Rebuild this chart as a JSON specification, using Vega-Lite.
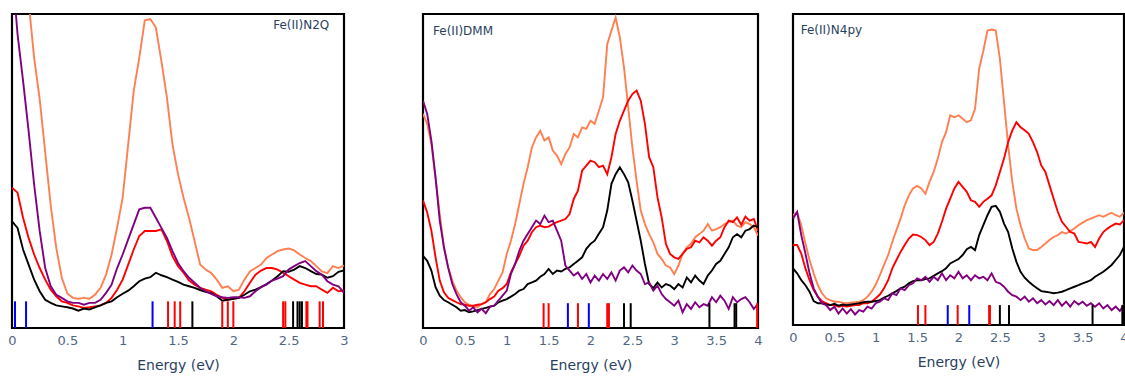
{
  "$schema": "https://vega.github.io/schema/vega-lite/v6.json",
  "background": "white",
  "padding": {"left": 6, "top": 12, "right": 0, "bottom": 2},
  "config": {
    "font": "DejaVu Sans",
    "view": {"stroke": "black", "strokeWidth": 2.2},
    "axis": {
      "grid": false,
      "ticks": false,
      "tickSize": 0,
      "domain": false,
      "labelFlush": false,
      "format": "~g",
      "labelFont": "DejaVu Sans",
      "labelFontSize": 13,
      "labelColor": "#506784",
      "labelPadding": 6,
      "titleFont": "DejaVu Sans",
      "titleFontSize": 14,
      "titleFontWeight": "normal",
      "titleColor": "#2a3f5f",
      "titlePadding": 11
    }
  },
  "datasets": {
    "n2q": [
      {"e":0,"o":160,"r":44.7,"k":34,"p":115},
      {"e":0.05,"o":150,"r":43.1,"k":31.9,"p":93.6},
      {"e":0.1,"o":130,"r":35.1,"k":25,"p":78.7},
      {"e":0.15,"o":104,"r":28.7,"k":20.2,"p":62.8},
      {"e":0.2,"o":86,"r":23.4,"k":15.4,"p":45.7},
      {"e":0.25,"o":73,"r":19.1,"k":11.7,"p":30.9},
      {"e":0.3,"o":56,"r":15.4,"k":9,"p":19.1},
      {"e":0.35,"o":39,"r":12.2,"k":8,"p":13.3},
      {"e":0.4,"o":25.5,"r":10.1,"k":7.2,"p":10.6},
      {"e":0.45,"o":16,"r":8.5,"k":6.9,"p":9.6},
      {"e":0.5,"o":11,"r":8,"k":6.6,"p":8.5},
      {"e":0.55,"o":9.6,"r":7.2,"k":6.2,"p":8},
      {"e":0.6,"o":9.3,"r":6.9,"k":5.5,"p":8},
      {"e":0.65,"o":9.6,"r":6.4,"k":6.2,"p":7.4},
      {"e":0.7,"o":9.3,"r":6.6,"k":5.9,"p":8},
      {"e":0.75,"o":10.6,"r":6.9,"k":6.6,"p":8},
      {"e":0.8,"o":12.8,"r":7.2,"k":7.2,"p":9},
      {"e":0.85,"o":17,"r":8,"k":8,"p":11.2},
      {"e":0.9,"o":23.4,"r":9.6,"k":8.5,"p":13.8},
      {"e":0.95,"o":32,"r":12.2,"k":9.8,"p":19.1},
      {"e":1.0,"o":41.5,"r":15.4,"k":10.9,"p":23.4},
      {"e":1.05,"o":58.5,"r":20.2,"k":11.9,"p":28.2},
      {"e":1.1,"o":75.5,"r":25,"k":13.3,"p":33},
      {"e":1.15,"o":86,"r":29.3,"k":14.9,"p":37.8},
      {"e":1.2,"o":98,"r":30.9,"k":15.7,"p":38.3},
      {"e":1.25,"o":98.4,"r":30.9,"k":16.2,"p":38.3},
      {"e":1.3,"o":95.7,"r":30.9,"k":17.6,"p":35.1},
      {"e":1.35,"o":85,"r":31.4,"k":16.8,"p":31.9},
      {"e":1.4,"o":73.4,"r":27.7,"k":16.2,"p":28.7},
      {"e":1.45,"o":58.5,"r":22.9,"k":15.4,"p":24.5},
      {"e":1.5,"o":49,"r":19.7,"k":14.7,"p":20.7},
      {"e":1.55,"o":41.5,"r":17.6,"k":13.8,"p":18.1},
      {"e":1.6,"o":35,"r":15.1,"k":13.3,"p":16},
      {"e":1.65,"o":27.7,"r":13.8,"k":12.8,"p":14.4},
      {"e":1.7,"o":20.2,"r":12.8,"k":12.1,"p":12.8},
      {"e":1.75,"o":18.6,"r":12.2,"k":11.5,"p":11.7},
      {"e":1.8,"o":17.5,"r":11.7,"k":11.1,"p":10.9},
      {"e":1.85,"o":15.4,"r":10.6,"k":10.1,"p":10.1},
      {"e":1.9,"o":12.8,"r":9.6,"k":8.7,"p":9.8},
      {"e":1.95,"o":13.3,"r":9,"k":9,"p":9.6},
      {"e":2.0,"o":11.7,"r":9.3,"k":9.3,"p":9.8},
      {"e":2.05,"o":12.2,"r":9.6,"k":9.6,"p":9.8},
      {"e":2.1,"o":15.4,"r":11.7,"k":10.6,"p":9.6},
      {"e":2.15,"o":18,"r":14.4,"k":11.7,"p":10.1},
      {"e":2.2,"o":19.1,"r":17,"k":12.2,"p":11.7},
      {"e":2.25,"o":20.2,"r":18.3,"k":13,"p":13},
      {"e":2.3,"o":22.3,"r":19.1,"k":14,"p":13.8},
      {"e":2.35,"o":23.4,"r":19.1,"k":15.1,"p":15.1},
      {"e":2.4,"o":24.5,"r":18.6,"k":16.5,"p":15.7},
      {"e":2.45,"o":25,"r":17.6,"k":18.1,"p":16.5},
      {"e":2.5,"o":25.3,"r":16.5,"k":17.9,"p":18.6},
      {"e":2.55,"o":24.7,"r":15.4,"k":18.6,"p":19.7},
      {"e":2.6,"o":23.4,"r":14.4,"k":19.7,"p":20.7},
      {"e":2.65,"o":22.3,"r":13.8,"k":19.1,"p":21.3},
      {"e":2.7,"o":21.3,"r":13.3,"k":18.1,"p":19.7},
      {"e":2.75,"o":19.7,"r":13.3,"k":17.2,"p":18.1},
      {"e":2.8,"o":18,"r":12.2,"k":17,"p":17},
      {"e":2.85,"o":17.5,"r":11.2,"k":16,"p":14.9},
      {"e":2.9,"o":19.7,"r":12.8,"k":16.5,"p":13.8},
      {"e":2.95,"o":19.1,"r":11.7,"k":17.9,"p":13.3},
      {"e":3.0,"o":19.9,"r":11.9,"k":18.3,"p":11.2}
    ],
    "dmm": [
      {"e":0,"o":68.2,"r":40.6,"k":23,"p":72.4},
      {"e":0.05,"o":65,"r":36.8,"k":21.4,"p":68.2},
      {"e":0.1,"o":58.6,"r":31,"k":18.3,"p":59.7},
      {"e":0.15,"o":47.5,"r":22.5,"k":13,"p":48},
      {"e":0.2,"o":36.3,"r":15.1,"k":10.3,"p":34.2},
      {"e":0.25,"o":25.7,"r":11.4,"k":8.9,"p":25.7},
      {"e":0.3,"o":19.3,"r":9.6,"k":8.2,"p":19.3},
      {"e":0.35,"o":15.1,"r":8.9,"k":7.4,"p":14},
      {"e":0.4,"o":11.9,"r":8.2,"k":6.6,"p":10.8},
      {"e":0.45,"o":9.8,"r":7.6,"k":5.5,"p":8.2},
      {"e":0.5,"o":8.2,"r":7.4,"k":5.7,"p":7.1},
      {"e":0.55,"o":7.4,"r":7.1,"k":5,"p":5.5},
      {"e":0.6,"o":6.8,"r":7.1,"k":5.3,"p":6.6},
      {"e":0.65,"o":6.6,"r":7.4,"k":5.7,"p":5},
      {"e":0.7,"o":7.6,"r":7.6,"k":6.1,"p":6.1},
      {"e":0.75,"o":8.2,"r":8.2,"k":6.4,"p":4.7},
      {"e":0.8,"o":10.8,"r":9.2,"k":6.8,"p":6.8},
      {"e":0.85,"o":12.4,"r":10,"k":7.1,"p":7.1},
      {"e":0.9,"o":15.1,"r":11.9,"k":8.2,"p":8.7},
      {"e":0.95,"o":17.7,"r":12.7,"k":8.7,"p":10.3},
      {"e":1.0,"o":23.6,"r":14,"k":9.2,"p":11.9},
      {"e":1.05,"o":27.8,"r":17.7,"k":10,"p":17.2},
      {"e":1.1,"o":33.1,"r":20.4,"k":10.8,"p":20.4},
      {"e":1.15,"o":39.5,"r":23,"k":11.9,"p":24.6},
      {"e":1.2,"o":45.9,"r":26.2,"k":12.4,"p":27.8},
      {"e":1.25,"o":51.2,"r":27.8,"k":14,"p":29.9},
      {"e":1.3,"o":57.5,"r":30.5,"k":14.5,"p":32.1},
      {"e":1.35,"o":60.7,"r":32.1,"k":15.1,"p":34.2},
      {"e":1.4,"o":62.8,"r":32.6,"k":16.3,"p":33.1},
      {"e":1.45,"o":59.7,"r":32.1,"k":17.2,"p":35.8},
      {"e":1.5,"o":60.7,"r":32.3,"k":18.8,"p":33.7},
      {"e":1.55,"o":56.5,"r":33.1,"k":17.2,"p":34.2},
      {"e":1.6,"o":54.9,"r":33.7,"k":18.3,"p":31},
      {"e":1.65,"o":52.2,"r":34.2,"k":18,"p":27.8},
      {"e":1.7,"o":55.4,"r":34.7,"k":18.8,"p":19.9},
      {"e":1.75,"o":57.5,"r":36.3,"k":19.3,"p":18.3},
      {"e":1.8,"o":61.8,"r":41.1,"k":20.4,"p":16.7},
      {"e":1.85,"o":60.7,"r":43.7,"k":21.4,"p":17.7},
      {"e":1.9,"o":63.9,"r":50.1,"k":22.5,"p":15.6},
      {"e":1.95,"o":63.4,"r":51.7,"k":25.2,"p":17.2},
      {"e":2.0,"o":66,"r":53.3,"k":26.8,"p":14.5},
      {"e":2.05,"o":65,"r":52.8,"k":27.8,"p":16.7},
      {"e":2.1,"o":69.2,"r":51.2,"k":30,"p":15.1},
      {"e":2.15,"o":73.5,"r":51.7,"k":32.1,"p":17.2},
      {"e":2.2,"o":90.4,"r":49,"k":37.4,"p":15.6},
      {"e":2.25,"o":94.7,"r":54.4,"k":45.9,"p":17.7},
      {"e":2.3,"o":98.9,"r":61.8,"k":49,"p":15.1},
      {"e":2.35,"o":92.6,"r":66,"k":51.2,"p":18.3},
      {"e":2.4,"o":83,"r":69.2,"k":49,"p":19.3},
      {"e":2.45,"o":70.3,"r":72.4,"k":46.4,"p":17.7},
      {"e":2.5,"o":57.5,"r":74.5,"k":40.6,"p":19.9},
      {"e":2.55,"o":46.9,"r":75.6,"k":34.2,"p":18.3},
      {"e":2.6,"o":37.4,"r":72.4,"k":27.8,"p":17.2},
      {"e":2.65,"o":33.1,"r":65,"k":20.4,"p":14},
      {"e":2.7,"o":29.9,"r":54.4,"k":14,"p":14.5},
      {"e":2.75,"o":27.3,"r":51.2,"k":12.7,"p":11.9},
      {"e":2.8,"o":23.6,"r":41.6,"k":14.5,"p":13.5},
      {"e":2.85,"o":22,"r":35.2,"k":12.9,"p":10.8},
      {"e":2.9,"o":19.9,"r":26.8,"k":14,"p":9.2},
      {"e":2.95,"o":19.3,"r":23.6,"k":13.5,"p":8.2},
      {"e":3.0,"o":17.2,"r":22.5,"k":12.4,"p":7.1},
      {"e":3.05,"o":19.9,"r":22,"k":14,"p":8.7},
      {"e":3.1,"o":23.6,"r":23.6,"k":12.9,"p":5},
      {"e":3.15,"o":25.7,"r":25.2,"k":16.1,"p":7.6},
      {"e":3.2,"o":26.8,"r":25.7,"k":14.5,"p":6.1},
      {"e":3.25,"o":28.9,"r":27.8,"k":16.7,"p":8.2},
      {"e":3.3,"o":29.9,"r":27.3,"k":15.1,"p":6.6},
      {"e":3.35,"o":31,"r":28.9,"k":14,"p":7.6},
      {"e":3.4,"o":33.1,"r":27.8,"k":16.7,"p":7.1},
      {"e":3.45,"o":31,"r":26.2,"k":18.3,"p":9.8},
      {"e":3.5,"o":31.5,"r":27.8,"k":20.4,"p":8.2},
      {"e":3.55,"o":32.1,"r":28.9,"k":21.4,"p":10.3},
      {"e":3.6,"o":33.1,"r":32.1,"k":23.6,"p":8.7},
      {"e":3.65,"o":33.7,"r":34.2,"k":25.7,"p":6.1},
      {"e":3.7,"o":34.2,"r":33.7,"k":28.9,"p":9.8},
      {"e":3.75,"o":32.6,"r":35.2,"k":29.9,"p":8.2},
      {"e":3.8,"o":32.1,"r":32.9,"k":28.9,"p":9.2},
      {"e":3.85,"o":33.7,"r":35.5,"k":31,"p":9.8},
      {"e":3.9,"o":33.1,"r":34.2,"k":31.5,"p":8.2},
      {"e":3.95,"o":32.1,"r":34.7,"k":32.6,"p":6.1},
      {"e":4.0,"o":29.4,"r":31,"k":32.1,"p":7.6}
    ],
    "n4py": [
      {"e":0,"o":35.3,"r":25.7,"k":18.2,"p":34.2},
      {"e":0.05,"o":36.1,"r":25.7,"k":16.6,"p":36.4},
      {"e":0.1,"o":32.1,"r":23,"k":14.4,"p":28.9},
      {"e":0.15,"o":26.2,"r":18.2,"k":12.8,"p":23},
      {"e":0.2,"o":20.9,"r":14.4,"k":10.7,"p":16.6},
      {"e":0.25,"o":16.6,"r":11.2,"k":7.7,"p":11.8},
      {"e":0.3,"o":12.8,"r":9.1,"k":7,"p":9.1},
      {"e":0.35,"o":10.2,"r":7.7,"k":7,"p":7},
      {"e":0.4,"o":8.6,"r":7,"k":6.6,"p":6.4},
      {"e":0.45,"o":8,"r":6.4,"k":6.4,"p":4.8},
      {"e":0.5,"o":7.5,"r":6.4,"k":6.8,"p":5.9},
      {"e":0.55,"o":7.5,"r":5.9,"k":6.2,"p":3.7},
      {"e":0.6,"o":7.2,"r":6.2,"k":6.6,"p":5.3},
      {"e":0.65,"o":7,"r":5.9,"k":6.4,"p":3.7},
      {"e":0.7,"o":7.2,"r":6.2,"k":6.6,"p":5.1},
      {"e":0.75,"o":7.3,"r":6.4,"k":6.8,"p":3.4},
      {"e":0.8,"o":7.5,"r":6.4,"k":7,"p":4.8},
      {"e":0.85,"o":8,"r":7,"k":7.3,"p":4.3},
      {"e":0.9,"o":9.1,"r":7,"k":7.5,"p":5.9},
      {"e":0.95,"o":10.7,"r":7.5,"k":7.5,"p":5.3},
      {"e":1.0,"o":13,"r":8.6,"k":7.7,"p":7},
      {"e":1.05,"o":16,"r":9.8,"k":8,"p":7.5},
      {"e":1.1,"o":19.3,"r":11.8,"k":8.8,"p":8.6},
      {"e":1.15,"o":22.5,"r":14.4,"k":9.4,"p":8},
      {"e":1.2,"o":26.7,"r":18.2,"k":10.2,"p":10.2},
      {"e":1.25,"o":30.5,"r":20.9,"k":10.9,"p":9.6},
      {"e":1.3,"o":34.2,"r":23.5,"k":11.8,"p":11.8},
      {"e":1.35,"o":38.5,"r":25.7,"k":12.3,"p":11.2},
      {"e":1.4,"o":41.7,"r":27.8,"k":13.4,"p":12.8},
      {"e":1.45,"o":43.9,"r":29.1,"k":14.1,"p":13.4},
      {"e":1.5,"o":44.7,"r":28.9,"k":14.4,"p":15},
      {"e":1.55,"o":43.9,"r":28.3,"k":14.4,"p":14.4},
      {"e":1.6,"o":42.2,"r":27.3,"k":14.8,"p":15.5},
      {"e":1.65,"o":46,"r":25.7,"k":15,"p":13.9},
      {"e":1.7,"o":49.2,"r":26.7,"k":15.8,"p":15.5},
      {"e":1.75,"o":53.5,"r":29.4,"k":16.6,"p":14.4},
      {"e":1.8,"o":58.8,"r":33.2,"k":17.3,"p":16.6},
      {"e":1.85,"o":62,"r":37.4,"k":18.2,"p":14.4},
      {"e":1.9,"o":67.4,"r":40.6,"k":19.8,"p":16},
      {"e":1.95,"o":66.8,"r":43.9,"k":20.5,"p":15},
      {"e":2.0,"o":67.4,"r":46,"k":21.2,"p":17.1},
      {"e":2.05,"o":66.3,"r":44.4,"k":22.5,"p":15},
      {"e":2.1,"o":65.2,"r":42.8,"k":24.4,"p":16},
      {"e":2.15,"o":65.8,"r":40.1,"k":25.1,"p":14.4},
      {"e":2.2,"o":69.5,"r":39.6,"k":24.1,"p":16},
      {"e":2.25,"o":82.4,"r":38,"k":28.9,"p":15},
      {"e":2.3,"o":88.2,"r":39.6,"k":32.1,"p":15.5},
      {"e":2.35,"o":94.7,"r":40.6,"k":35.3,"p":14.4},
      {"e":2.4,"o":95,"r":41.7,"k":38,"p":16.6},
      {"e":2.45,"o":94.7,"r":44.9,"k":38.3,"p":13.9},
      {"e":2.5,"o":85.6,"r":49.2,"k":36.4,"p":13.4},
      {"e":2.55,"o":71.7,"r":53.5,"k":32.6,"p":12.3},
      {"e":2.6,"o":57.8,"r":58.8,"k":29.9,"p":10.7},
      {"e":2.65,"o":46,"r":62.6,"k":24.6,"p":9.6},
      {"e":2.7,"o":37.4,"r":65.2,"k":20.3,"p":9.1},
      {"e":2.75,"o":32.1,"r":63.6,"k":17.1,"p":8},
      {"e":2.8,"o":27.8,"r":62.6,"k":15.2,"p":9.1},
      {"e":2.85,"o":24.6,"r":61.5,"k":13.9,"p":7.5},
      {"e":2.9,"o":24.1,"r":58.8,"k":12.8,"p":8.6},
      {"e":2.95,"o":24.1,"r":55.6,"k":11.8,"p":7},
      {"e":3.0,"o":25.1,"r":51.3,"k":10.9,"p":8},
      {"e":3.05,"o":26.2,"r":49.2,"k":10.7,"p":6.6},
      {"e":3.1,"o":27.3,"r":44.9,"k":10.5,"p":7.7},
      {"e":3.15,"o":28.3,"r":40.6,"k":10.2,"p":6.4},
      {"e":3.2,"o":28.9,"r":36.4,"k":10.4,"p":8},
      {"e":3.25,"o":29.9,"r":33.2,"k":10.7,"p":6.2},
      {"e":3.3,"o":29.4,"r":31.6,"k":11.2,"p":7.5},
      {"e":3.35,"o":30.2,"r":29.9,"k":11.8,"p":5.9},
      {"e":3.4,"o":31,"r":29.4,"k":12.3,"p":7.7},
      {"e":3.45,"o":32.1,"r":26.7,"k":12.8,"p":6.6},
      {"e":3.5,"o":32.9,"r":26.5,"k":13.4,"p":7.5},
      {"e":3.55,"o":33.7,"r":26.2,"k":13.9,"p":6.2},
      {"e":3.6,"o":34.2,"r":26.7,"k":14.4,"p":7},
      {"e":3.65,"o":34.8,"r":25.1,"k":15.5,"p":5.9},
      {"e":3.7,"o":35.3,"r":27.8,"k":16.3,"p":7},
      {"e":3.75,"o":34.8,"r":29.9,"k":17.1,"p":5.3},
      {"e":3.8,"o":35.5,"r":31,"k":18.2,"p":6.4},
      {"e":3.85,"o":36.1,"r":31.9,"k":19.3,"p":4.8},
      {"e":3.9,"o":35.3,"r":32.6,"k":20.9,"p":5.9},
      {"e":3.95,"o":34.8,"r":32.3,"k":22.5,"p":4.5},
      {"e":4.0,"o":36.1,"r":33.7,"k":25.1,"p":6.6}
    ],
    "sticks": [
      {"panel":"n2q","e":0.027,"s":"b","h":8.5},
      {"panel":"n2q","e":0.127,"s":"b","h":8.5},
      {"panel":"n2q","e":1.27,"s":"b","h":8.5},
      {"panel":"n2q","e":1.41,"s":"r","h":8.5},
      {"panel":"n2q","e":1.47,"s":"r","h":8.5},
      {"panel":"n2q","e":1.52,"s":"r","h":8.5},
      {"panel":"n2q","e":1.63,"s":"k","h":8.5},
      {"panel":"n2q","e":1.90,"s":"r","h":8.5},
      {"panel":"n2q","e":1.95,"s":"r","h":8.5},
      {"panel":"n2q","e":2.0,"s":"r","h":8.5},
      {"panel":"n2q","e":2.45,"s":"r","h":8.5},
      {"panel":"n2q","e":2.47,"s":"r","h":8.5},
      {"panel":"n2q","e":2.54,"s":"k","h":8.5},
      {"panel":"n2q","e":2.58,"s":"k","h":8.5},
      {"panel":"n2q","e":2.60,"s":"k","h":8.5},
      {"panel":"n2q","e":2.62,"s":"k","h":8.5},
      {"panel":"n2q","e":2.66,"s":"r","h":8.5},
      {"panel":"n2q","e":2.67,"s":"r","h":8.5},
      {"panel":"n2q","e":2.78,"s":"r","h":8.5},
      {"panel":"n2q","e":2.81,"s":"r","h":8.5},
      {"panel":"dmm","e":1.44,"s":"r","h":7.9},
      {"panel":"dmm","e":1.50,"s":"r","h":7.9},
      {"panel":"dmm","e":1.73,"s":"b","h":7.9},
      {"panel":"dmm","e":1.85,"s":"r","h":7.9},
      {"panel":"dmm","e":1.98,"s":"b","h":7.9},
      {"panel":"dmm","e":2.20,"s":"r","h":7.9},
      {"panel":"dmm","e":2.22,"s":"r","h":7.9},
      {"panel":"dmm","e":2.40,"s":"k","h":7.9},
      {"panel":"dmm","e":2.48,"s":"k","h":7.9},
      {"panel":"dmm","e":3.42,"s":"k","h":7.9},
      {"panel":"dmm","e":3.72,"s":"k","h":7.9},
      {"panel":"dmm","e":3.74,"s":"k","h":7.9},
      {"panel":"dmm","e":3.99,"s":"r","h":7.9},
      {"panel":"n4py","e":1.51,"s":"r","h":6.4},
      {"panel":"n4py","e":1.60,"s":"r","h":6.4},
      {"panel":"n4py","e":1.87,"s":"b","h":6.4},
      {"panel":"n4py","e":1.99,"s":"r","h":6.4},
      {"panel":"n4py","e":2.13,"s":"b","h":6.4},
      {"panel":"n4py","e":2.37,"s":"r","h":6.4},
      {"panel":"n4py","e":2.38,"s":"r","h":6.4},
      {"panel":"n4py","e":2.50,"s":"k","h":6.4},
      {"panel":"n4py","e":2.61,"s":"k","h":6.4},
      {"panel":"n4py","e":3.62,"s":"k","h":6.4},
      {"panel":"n4py","e":3.98,"s":"k","h":6.4},
      {"panel":"n4py","e":3.99,"s":"k","h":6.4}
    ]
  },
  "bounds": "flush",
  "spacing": 79,
  "hconcat": [
    {
      "width": 332,
      "height": 314,
      "layer": [
        {
          "data": {"name": "n2q"},
          "transform": [{"fold": ["o", "r", "k", "p"], "as": ["s", "v"]}],
          "mark": {"type": "line", "strokeWidth": 1.9, "clip": true},
          "encoding": {
            "x": {"field": "e", "type": "quantitative", "scale": {"domain": [0, 3], "nice": false},
                  "axis": {"title": "Energy (eV)", "values": [0, 0.5, 1, 1.5, 2, 2.5, 3]}},
            "y": {"field": "v", "type": "quantitative", "scale": {"domain": [0, 100], "nice": false}, "axis": null},
            "color": {"field": "s", "type": "nominal", "legend": null,
                      "scale": {"domain": ["o", "r", "k", "p", "b"], "range": ["#FF7F50", "#FF0000", "#000000", "#800080", "#0000FF"]}}
          }
        },
        {
          "data": {"name": "sticks"},
          "transform": [{"filter": "datum.panel == 'n2q'"}],
          "mark": {"type": "rule", "strokeWidth": 2},
          "encoding": {
            "x": {"field": "e", "type": "quantitative"},
            "y": {"field": "h", "type": "quantitative"},
            "y2": {"datum": 0},
            "color": {"field": "s", "type": "nominal", "legend": null}
          }
        },
        {
          "data": {"values": [{"label": "Fe(II)N2Q", "e": 2.867, "v": 96.6}]},
          "mark": {"type": "text", "align": "right", "baseline": "middle", "fontSize": 12, "color": "#2a3f5f"},
          "encoding": {
            "x": {"field": "e", "type": "quantitative"},
            "y": {"field": "v", "type": "quantitative"},
            "text": {"field": "label", "type": "nominal"}
          }
        }
      ]
    },
    {
      "bounds": "flush",
      "spacing": 35,
      "hconcat": [
        {
          "width": 335,
          "height": 314,
          "layer": [
            {
              "data": {"name": "dmm"},
              "transform": [{"fold": ["o", "r", "k", "p"], "as": ["s", "v"]}],
              "mark": {"type": "line", "strokeWidth": 1.9, "clip": true},
              "encoding": {
                "x": {"field": "e", "type": "quantitative", "scale": {"domain": [0, 4], "nice": false},
                      "axis": {"title": "Energy (eV)", "values": [0, 0.5, 1, 1.5, 2, 2.5, 3, 3.5, 4]}},
                "y": {"field": "v", "type": "quantitative", "scale": {"domain": [0, 100], "nice": false}, "axis": null},
                "color": {"field": "s", "type": "nominal", "legend": null,
                          "scale": {"domain": ["o", "r", "k", "p", "b"], "range": ["#FF7F50", "#FF0000", "#000000", "#800080", "#0000FF"]}}
              }
            },
            {
              "data": {"name": "sticks"},
              "transform": [{"filter": "datum.panel == 'dmm'"}],
              "mark": {"type": "rule", "strokeWidth": 2},
              "encoding": {
                "x": {"field": "e", "type": "quantitative"},
                "y": {"field": "h", "type": "quantitative"},
                "y2": {"datum": 0},
                "color": {"field": "s", "type": "nominal", "legend": null}
              }
            },
            {
              "data": {"values": [{"label": "Fe(II)DMM", "e": 0.12, "v": 94.7}]},
              "mark": {"type": "text", "align": "left", "baseline": "middle", "fontSize": 12, "color": "#2a3f5f"},
              "encoding": {
                "x": {"field": "e", "type": "quantitative"},
                "y": {"field": "v", "type": "quantitative"},
                "text": {"field": "label", "type": "nominal"}
              }
            }
          ]
        },
        {
          "width": 331,
          "height": 311,
          "layer": [
            {
              "data": {"name": "n4py"},
              "transform": [{"fold": ["o", "r", "k", "p"], "as": ["s", "v"]}],
              "mark": {"type": "line", "strokeWidth": 1.9, "clip": true},
              "encoding": {
                "x": {"field": "e", "type": "quantitative", "scale": {"domain": [0, 4], "nice": false},
                      "axis": {"title": "Energy (eV)", "values": [0, 0.5, 1, 1.5, 2, 2.5, 3, 3.5, 4]}},
                "y": {"field": "v", "type": "quantitative", "scale": {"domain": [0, 100], "nice": false}, "axis": null},
                "color": {"field": "s", "type": "nominal", "legend": null,
                          "scale": {"domain": ["o", "r", "k", "p", "b"], "range": ["#FF7F50", "#FF0000", "#000000", "#800080", "#0000FF"]}}
              }
            },
            {
              "data": {"name": "sticks"},
              "transform": [{"filter": "datum.panel == 'n4py'"}],
              "mark": {"type": "rule", "strokeWidth": 2},
              "encoding": {
                "x": {"field": "e", "type": "quantitative"},
                "y": {"field": "h", "type": "quantitative"},
                "y2": {"datum": 0},
                "color": {"field": "s", "type": "nominal", "legend": null}
              }
            },
            {
              "data": {"values": [{"label": "Fe(II)N4py", "e": 0.093, "v": 95}]},
              "mark": {"type": "text", "align": "left", "baseline": "middle", "fontSize": 12, "color": "#2a3f5f"},
              "encoding": {
                "x": {"field": "e", "type": "quantitative"},
                "y": {"field": "v", "type": "quantitative"},
                "text": {"field": "label", "type": "nominal"}
              }
            }
          ]
        }
      ]
    }
  ]
}
